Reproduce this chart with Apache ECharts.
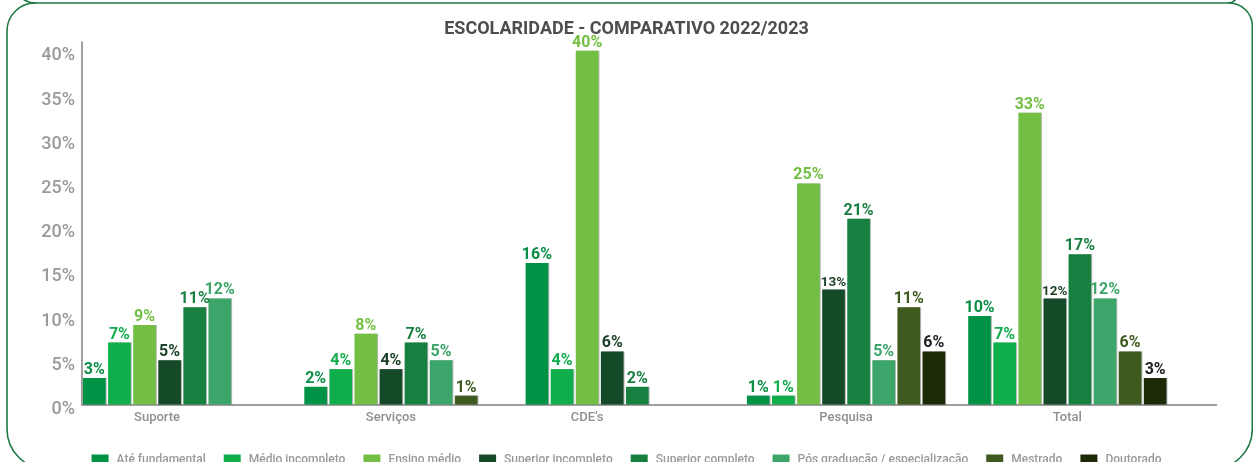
<!DOCTYPE html>
<html>
<head>
<meta charset="utf-8">
<script src="https://cdn.jsdelivr.net/npm/echarts@6/dist/echarts.min.js"></script>
<style>
  html, body { margin: 0; padding: 0; background: #fff; }
  #chart { width: 1253px; height: 462px; }
</style>
</head>
<body>
<div id="chart"></div>
<script>
// Escolaridade por área, em % (null = sem registro)
const categories = ['Suporte', 'Serviços', 'CDE’s', 'Pesquisa', 'Total'];
const seriesNames = [
  'Até fundamental', 'Médio incompleto', 'Ensino médio', 'Superior incompleto',
  'Superior completo', 'Pós graduação / especialização', 'Mestrado', 'Doutorado'
];
const ateFundamental     = [3, 2, 16, 1, 10];
const medioIncompleto    = [7, 4, 4, 1, 7];
const ensinoMedio        = [9, 8, 40, 25, 33];
const superiorIncompleto = [5, 4, 6, 13, 12];
const superiorCompleto   = [11, 7, 2, 21, 17];
const posGraduacao       = [12, 5, null, 5, 12];
const mestrado           = [null, 1, null, 11, 6];
const doutorado          = [null, null, null, 6, 3];
const yTicks = [0, 5, 10, 15, 20, 25, 30, 35, 40];

const seriesValues = [ateFundamental, medioIncompleto, ensinoMedio, superiorIncompleto,
  superiorCompleto, posGraduacao, mestrado, doutorado];
const colors = ['#009245', '#0eae4b', '#72bf44', '#154a28', '#178040', '#3ca66a', '#3f5a1f', '#1d2a08'];
const labelColors = ['#0b8f47', '#12ad4e', '#72bf44', '#1b3f26', '#1a8042', '#3ca66a', '#3f5a1f', '#222'];

// bar band geometry (grid for the bars)
const W = 1253, H = 462;
const barLeft = 71.5, barWidthTotal = 1106.5, plotTop = 42, plotBottom = 404.5;
const catGap = 0.104, barGapRatio = 0.106;
const catW = barWidthTotal / categories.length;
const barW = catW * (1 - catGap) / (seriesNames.length + (seriesNames.length - 1) * barGapRatio);
const pitch = barW * (1 + barGapRatio);

// category labels sit under the bars that are present in each group
const rich = {};
categories.forEach((c, ci) => {
  const present = [];
  seriesValues.forEach((vals, si) => { if (vals[ci] != null) present.push(si); });
  const mean = present.reduce((a, b) => a + b, 0) / present.length;
  const shift = (mean - (seriesNames.length - 1) / 2) * pitch;
  rich['c' + ci] = {
    fontFamily: 'Roboto', fontSize: 13, fontWeight: 500, color: '#8f8f8f',
    padding: shift < 0 ? [0, -2 * shift, 0, 0] : [0, 0, 0, 2 * shift]
  };
});

const series = seriesNames.map((name, si) => ({
  name: name,
  type: 'bar',
  xAxisIndex: 0,
  yAxisIndex: 0,
  barGap: (barGapRatio * 100) + '%',
  barCategoryGap: (catGap * 100) + '%',
  itemStyle: {
    color: colors[si],
    shadowColor: 'rgba(0,0,0,0.28)',
    shadowOffsetX: 1,
    shadowBlur: 0
  },
  label: {
    show: true,
    position: 'top',
    distance: 0,
    formatter: p => p.value + '%',
    fontFamily: 'Roboto',
    fontSize: 16,
    fontWeight: 'bold',
    color: labelColors[si]
  },
  data: seriesValues[si].map(v => {
    if (v == null) return '-';
    if (si === 3 && v >= 10) return { value: v, label: { fontSize: 13.5 } };
    return v;
  })
}));

const yMax = 41;
const frameStyle = { fill: null, stroke: '#1f7a45', lineWidth: 1.6 };
const chart = echarts.init(document.getElementById('chart'), null, { renderer: 'canvas' });
chart.setOption({
  animation: false,
  backgroundColor: '#fff',
  title: {
    text: 'ESCOLARIDADE - COMPARATIVO 2022/2023',
    left: 'center', top: 15,
    textStyle: { fontFamily: 'Roboto', fontSize: 18, fontWeight: 'bold', color: '#4d4d4d' }
  },
  legend: {
    data: seriesNames,
    left: 'center',
    top: 449,
    itemWidth: 17,
    itemHeight: 11,
    itemGap: 18,
    icon: 'rect',
    textStyle: { fontFamily: 'Roboto', fontSize: 12, fontWeight: 500, color: '#9a9a9a', padding: [0, 0, 0, 3] }
  },
  grid: [
    { left: barLeft, width: barWidthTotal, top: plotTop, bottom: H - plotBottom },
    { left: 82, right: W - 1216.5, top: plotTop, bottom: H - plotBottom }
  ],
  xAxis: [
    {
      type: 'category', gridIndex: 0, data: categories,
      axisLine: { show: false }, axisTick: { show: false },
      axisLabel: { margin: 7, formatter: (v, i) => '{c' + i + '|' + v + '}', rich: rich }
    },
    {
      type: 'value', gridIndex: 1, min: 0, max: 1,
      axisLine: { show: true, lineStyle: { color: '#808080', width: 1.5 } },
      axisTick: { show: false }, axisLabel: { show: false }, splitLine: { show: false }
    }
  ],
  yAxis: [
    {
      type: 'value', gridIndex: 0, min: 0, max: yMax,
      axisLine: { show: false }, axisTick: { show: false },
      axisLabel: { show: false }, splitLine: { show: false }
    },
    {
      type: 'value', gridIndex: 1, min: 0, max: yMax, interval: 5,
      axisLine: { show: true, lineStyle: { color: '#808080', width: 1.5 } },
      axisTick: { show: false }, splitLine: { show: false },
      axisLabel: {
        margin: 7,
        lineHeight: 10,
        verticalAlign: 'top',
        fontFamily: 'Roboto', fontSize: 18, fontWeight: 500, color: '#9a9a9a',
        formatter: v => yTicks.indexOf(v) >= 0 ? v + '%' : ''
      }
    }
  ],
  graphic: [
    {
      type: 'rect', silent: true, z: 100,
      shape: { x: 7, y: 3, width: 1245.3, height: 466, r: [28, 23, 40, 40] },
      style: frameStyle
    },
    {
      type: 'bezierCurve', silent: true, z: 100,
      shape: { x1: 23, y1: -1, cpx1: 28, cpy1: 3, x2: 36, y2: 3 },
      style: frameStyle
    },
    {
      type: 'bezierCurve', silent: true, z: 100,
      shape: { x1: 1228, y1: 3, cpx1: 1233, cpy1: 3, x2: 1236, y2: -1 },
      style: frameStyle
    }
  ],
  series: series
});
</script>
</body>
</html>
